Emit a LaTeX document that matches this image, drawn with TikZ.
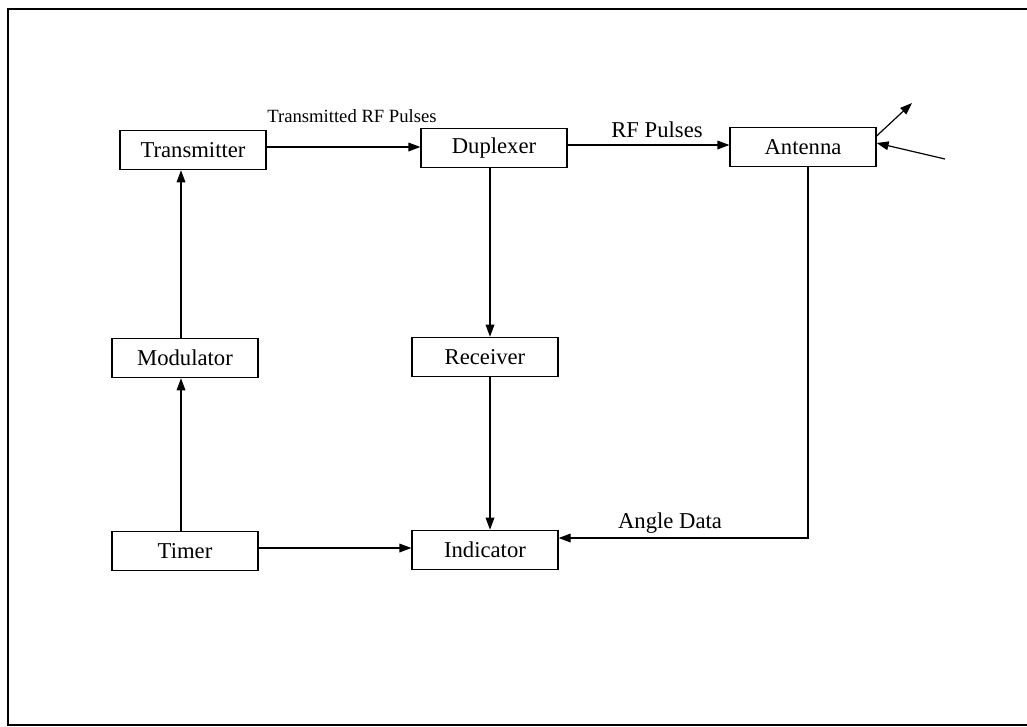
\documentclass[tikz,border=0pt]{standalone}
\usepackage{fontspec}
\setmainfont{Liberation Serif}
\usetikzlibrary{arrows.meta}
\begin{document}
\begin{tikzpicture}[x=0.75pt,y=-0.75pt,
  blk/.style={draw,line width=0.9pt,minimum width=109.5pt,minimum height=29.5pt,inner sep=0pt,font=\fontsize{17}{20}\selectfont},
  conn/.style={line width=0.9pt,-{Triangle[length=9pt,width=6.5pt]}},
  lbl/.style={inner sep=0pt,font=\fontsize{17}{20}\selectfont},
  slbl/.style={inner sep=0pt,font=\fontsize{14}{16}\selectfont}]
\useasboundingbox (0,0) rectangle (1027,726);
\draw[line width=1.5pt] (1027,9) -- (8,9) -- (8,725) -- (1027,725);
\node[blk] (tx)  at (193,150) {Transmitter};
\node[blk] (dup) at (494,148) {Duplexer};
\node[blk] (ant) at (803,147) {Antenna};
\node[blk] (mod) at (185,358) {Modulator};
\node[blk] (rx)  at (485,357) {Receiver};
\node[blk] (tm)  at (185,551) {Timer};
\node[blk] (ind) at (485,550) {Indicator};
\coordinate (corner) at (808,538);
\coordinate (outtip) at (912,103);
\coordinate (intail) at (945,159);
\draw[conn] (tm.north -| 181,0) -- (mod.south -| 181,0);
\draw[conn] (mod.north -| 181,0) -- (tx.south -| 181,0);
\draw[conn] (tx.east |- 0,147) -- (dup.west |- 0,147);
\draw[conn] (dup.east |- 0,145) -- (ant.west |- 0,145);
\draw[conn] (dup.south -| 490,0) -- (rx.north -| 490,0);
\draw[conn] (rx.south -| 490,0) -- (ind.north -| 490,0);
\draw[conn] (tm.east |- 0,548) -- (ind.west |- 0,548);
\draw[conn] (ant.south -| corner) -- (corner) -- (ind.east |- corner);
\draw[conn] (ant.east |- 0,136) -- (outtip);
\draw[conn] (intail) -- (ant.east |- 0,143);
\node[slbl] (l1) at (352,116) {Transmitted RF Pulses};
\node[lbl] (l2) at (657,130) {RF Pulses};
\node[lbl] (l3) at (670,523) {Angle Data};
\end{tikzpicture}
\end{document}
